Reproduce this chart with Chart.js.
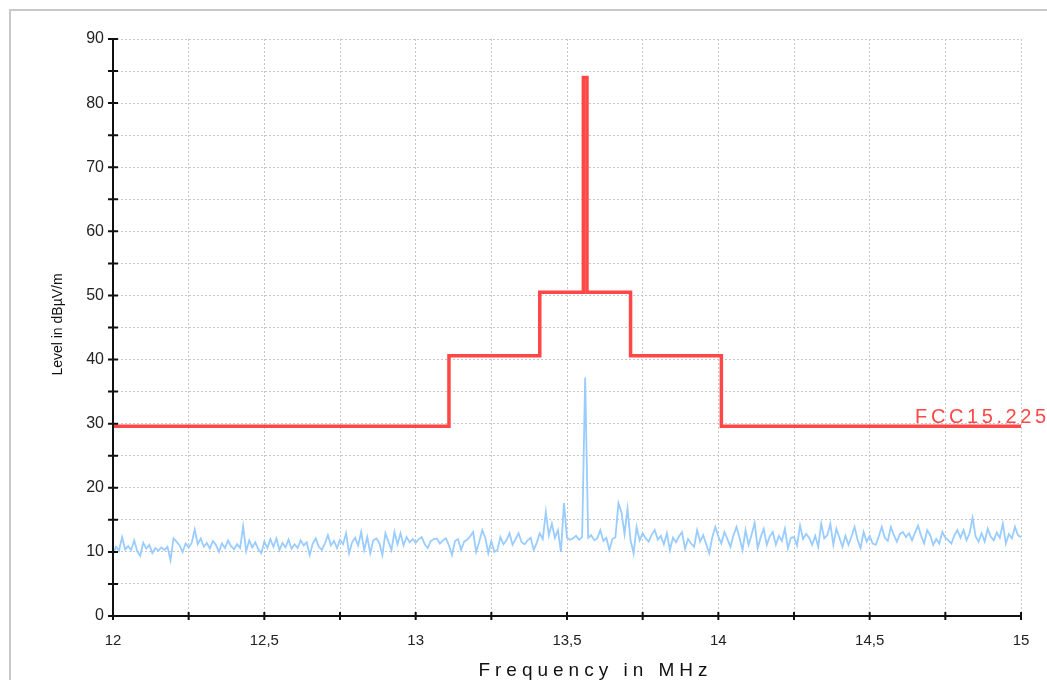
<!DOCTYPE html>
<html>
<head>
<meta charset="utf-8">
<title>FCC 15.225 emission scan</title>
<script src="https://cdn.jsdelivr.net/npm/chart.js@4.4.1/dist/chart.umd.min.js"></script>
<style>
    html, body { margin: 0; padding: 0; background: #fff; overflow: hidden; }
    #frame {
        position: absolute; left: 9px; top: 9px;
        width: 1200px; height: 800px;
        border: 2px solid #c9c9c9;
    }
    #wrap { position: absolute; left: 0; top: 0; width: 1047px; height: 680px; }
</style>
</head>
<body>
<div id="frame"></div>
<div id="wrap"><canvas id="scan"></canvas></div>
<script>
// Limit line (FCC 15.225), step edges in MHz and levels in dBuV/m
const limitFreq  = [12, 13.11, 13.41, 13.554, 13.566, 13.71, 14.01, 15];
const limitLevel = [29.6, 40.6, 50.5, 84.0, 50.5, 40.6, 29.6, 29.6];
const limitName  = 'FCC15.225';

// Measured trace, one reading every 10 kHz from 12.00 MHz to 15.00 MHz
const scanStart = 12.0;
const scanStep  = 0.01;
const scanLevel = [
    // 12.0
    9.6, 10.8, 10.2, 12.3, 10.4, 10.9, 10.3, 11.8, 10.1, 9.4,
    // 12.1
    11.4, 10.5, 11.1, 9.8, 10.6, 10.2, 10.7, 10.3, 10.8, 8.7,
    // 12.2
    12.1, 11.6, 11.0, 10.0, 11.3, 10.7, 11.4, 13.5, 11.2, 12.1,
    // 12.3
    10.8, 11.4, 10.5, 11.7, 11.1, 10.0, 11.3, 10.6, 11.8, 10.9,
    // 12.4
    10.4, 11.2, 10.6, 14.0, 10.1, 11.8, 10.7, 11.5, 10.4, 9.8,
    // 12.5
    11.6, 10.6, 12.0, 10.8, 12.1, 10.3, 11.4, 10.7, 11.9, 10.5,
    // 12.6
    11.2, 10.6, 11.8, 11.0, 11.5, 9.5, 11.3, 12.1, 10.8, 10.3,
    // 12.7
    11.3, 12.6, 11.0, 11.7, 10.6, 11.9, 11.2, 12.9, 9.8, 11.5,
    // 12.8
    12.2, 11.0, 13.1, 10.3, 12.3, 9.8, 11.8, 12.1, 11.4, 9.5,
    // 12.9
    12.9, 11.6, 10.3, 13.1, 11.2, 12.9, 11.0, 12.3, 11.5, 12.0,
    // 13.0
    11.4, 12.0, 12.3, 11.2, 10.6, 11.7, 12.0, 12.1, 11.3, 11.8,
    // 13.1
    12.1, 11.0, 9.5, 11.7, 12.0, 10.3, 11.6, 11.9, 12.4, 13.1,
    // 13.2
    10.0, 11.6, 13.4, 12.2, 9.8, 11.7, 10.0, 10.3, 12.3, 11.2,
    // 13.3
    11.8, 12.9, 11.1, 12.0, 12.9, 11.5, 11.2, 11.8, 12.2, 10.3,
    // 13.4
    11.4, 12.9, 12.0, 16.2, 12.6, 14.4, 12.2, 13.4, 10.0, 17.6,
    // 13.5
    12.2, 11.9, 12.1, 12.5, 11.9, 12.3, 37.2, 12.2, 12.6, 11.8,
    // 13.6
    12.1, 13.4, 11.7, 12.2, 10.3, 12.0, 12.3, 17.6, 16.2, 12.8,
    // 13.7
    16.7, 11.8, 9.8, 13.9, 11.8, 12.9, 12.1, 11.6, 12.7, 13.4,
    // 13.8
    11.9, 12.5, 11.2, 12.9, 10.3, 12.2, 11.5, 12.4, 13.1, 10.5,
    // 13.9
    12.0, 11.3, 10.8, 13.4, 11.6, 12.6, 11.2, 9.8, 12.3, 13.9,
    // 14.0
    12.4, 11.3, 13.1, 12.0, 10.8, 12.6, 13.9, 12.2, 10.3, 13.4,
    // 14.1
    11.1, 12.7, 14.5, 10.6, 12.3, 13.6, 11.1, 12.4, 13.1, 11.1,
    // 14.2
    12.5, 11.7, 13.6, 10.6, 12.2, 12.3, 11.0, 14.1, 12.0, 12.8,
    // 14.3
    12.2, 11.1, 12.5, 10.8, 14.4, 12.1, 12.6, 14.4, 11.1, 13.6,
    // 14.4
    12.2, 10.8, 12.5, 11.1, 12.4, 13.9, 11.9, 10.6, 13.1, 11.6,
    // 14.5
    12.5, 11.3, 11.1, 12.4, 13.9, 12.2, 11.7, 13.9, 12.6, 11.6,
    // 14.6
    12.8, 13.1, 12.3, 12.9, 11.8, 13.0, 14.1, 12.5, 11.3, 13.4,
    // 14.7
    12.6, 11.1, 12.0, 11.3, 13.1, 12.2, 11.8, 11.3, 12.6, 13.4,
    // 14.8
    12.2, 13.4, 11.8, 12.9, 15.3, 12.4, 11.6, 12.9, 11.6, 13.6,
    // 14.9
    12.4, 11.8, 13.0, 12.2, 14.4, 11.3, 12.8, 12.1, 13.9, 12.6,
    // 15.0
    12.3
];

// Axis setup
const freqMin = 12, freqMax = 15, freqStep = 0.25, freqLabelEvery = 0.5;
const levelMin = 0, levelMax = 90, levelStep = 5, levelLabelEvery = 10;
const xTitle = 'Frequency in MHz';
const yTitle = 'Level in dB\u00b5V/m';

const RED = '#ff4747';
const BLUE = '#99ccff';
const FONT = "'Liberation Sans', Arial, sans-serif";

const limitPoints = limitFreq.map((f, i) => ({ x: f, y: limitLevel[i] }));
const scanPoints = scanLevel.map((v, i) => ({ x: +(scanStart + i * scanStep).toFixed(3), y: v }));

function isMultiple(v, step) {
    const q = v / step;
    return Math.abs(q - Math.round(q)) < 1e-6;
}

// draws text with extra space between the letters
function spacedText(ctx, text, x, y, spacing, align) {
    let total = 0;
    for (const ch of text) total += ctx.measureText(ch).width + spacing;
    total -= spacing;
    let cx = align === 'center' ? x - total / 2 : x;
    ctx.textAlign = 'left';
    for (const ch of text) {
        ctx.fillText(ch, cx, y);
        cx += ctx.measureText(ch).width + spacing;
    }
}

// Axis lines with ticks crossing them, titles and the limit name
const axesPlugin = {
    id: 'axesPlugin',
    afterDatasetsDraw(chart) {
        const ctx = chart.ctx;
        const xs = chart.scales.x;
        const ys = chart.scales.y;
        const area = chart.chartArea;

        ctx.save();
        ctx.strokeStyle = '#111';
        ctx.lineWidth = 2;
        ctx.beginPath();
        ctx.moveTo(area.left, area.top - 1);
        ctx.lineTo(area.left, area.bottom);
        ctx.lineTo(area.right + 1, area.bottom);
        ctx.stroke();

        ctx.beginPath();
        ys.ticks.forEach(t => {
            const py = ys.getPixelForValue(t.value);
            ctx.moveTo(area.left - 5, py);
            ctx.lineTo(area.left + 5, py);
        });
        xs.ticks.forEach(t => {
            const px = xs.getPixelForValue(t.value);
            ctx.moveTo(px, area.bottom - 4);
            ctx.lineTo(px, area.bottom + 4);
        });
        ctx.stroke();

        // x title
        ctx.fillStyle = '#111';
        ctx.textBaseline = 'alphabetic';
        ctx.font = '19px ' + FONT;
        spacedText(ctx, xTitle, (area.left + area.right) / 2 + 26, 676, 5, 'center');

        // y title
        ctx.save();
        ctx.translate(62, (area.top + area.bottom) / 2 - 3);
        ctx.rotate(-Math.PI / 2);
        ctx.font = '14px ' + FONT;
        spacedText(ctx, yTitle, 0, 0, 0, 'center');
        ctx.restore();

        // limit name above the right hand part of the limit line
        const last = limitLevel[limitLevel.length - 1];
        ctx.fillStyle = RED;
        ctx.font = '20px ' + FONT;
        spacedText(ctx, limitName, xs.getPixelForValue(14.65), ys.getPixelForValue(last) - 3, 3.6, 'left');
        ctx.restore();
    }
};

const gridStyle = {
    color: '#c6c6c6',
    lineWidth: 1,
    drawTicks: false
};

new Chart(document.getElementById('scan'), {
    type: 'line',
    data: {
        datasets: [
            {
                label: limitName,
                data: limitPoints,
                borderColor: RED,
                borderWidth: 3.5,
                stepped: true,
                pointRadius: 0,
                borderJoinStyle: 'miter'
            },
            {
                label: 'Level',
                data: scanPoints,
                borderColor: BLUE,
                borderWidth: 1.8,
                pointRadius: 0,
                tension: 0
            }
        ]
    },
    options: {
        responsive: true,
        maintainAspectRatio: false,
        animation: false,
        layout: { padding: { left: 0, right: 26, top: 39, bottom: 0 } },
        plugins: {
            legend: { display: false },
            tooltip: { enabled: false }
        },
        scales: {
            x: {
                type: 'linear',
                min: freqMin,
                max: freqMax,
                afterFit(scale) { scale.height = 64; },
                grid: gridStyle,
                border: { display: false, dash: [2, 2] },
                ticks: {
                    stepSize: freqStep,
                    autoSkip: false,
                    maxRotation: 0,
                    padding: 16,
                    color: '#222',
                    font: { family: FONT, size: 15 },
                    callback: v => isMultiple(v, freqLabelEvery) ? String(+v.toFixed(2)).replace('.', ',') : ''
                }
            },
            y: {
                min: levelMin,
                max: levelMax,
                afterFit(scale) { scale.width = 113; },
                grid: gridStyle,
                border: { display: false, dash: [2, 2] },
                ticks: {
                    stepSize: levelStep,
                    autoSkip: false,
                    padding: 9,
                    color: '#222',
                    font: { family: FONT, size: 16 },
                    callback: v => isMultiple(v, levelLabelEvery) ? String(v) : ''
                }
            }
        }
    },
    plugins: [axesPlugin]
});
</script>
</body>
</html>
